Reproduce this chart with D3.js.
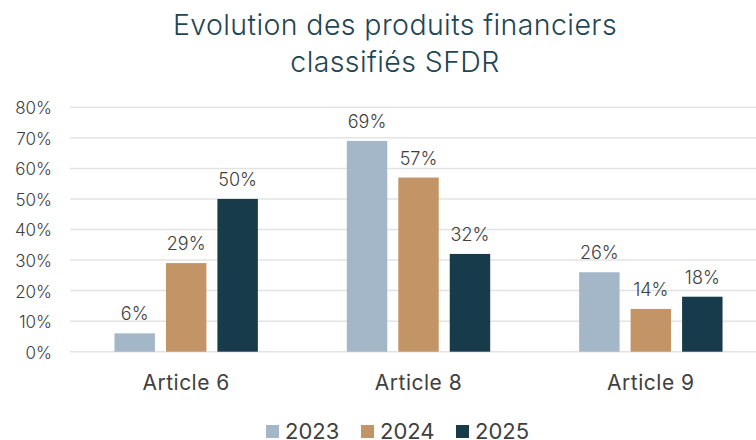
<!DOCTYPE html>
<html>
<head>
<meta charset="utf-8">
<script src="https://cdn.jsdelivr.net/npm/d3@7"></script>
<style>
  body { margin: 0; background: #fff; }
  svg { display: block; }
</style>
</head>
<body>
<div id="chart"></div>
<script>
// data
const categories = ["Article 6", "Article 8", "Article 9"];
const years = ["2023", "2024", "2025"];
const values2023 = [6, 69, 26];
const values2024 = [29, 57, 14];
const values2025 = [50, 32, 18];
const yTicks = [0, 10, 20, 30, 40, 50, 60, 70, 80];
const colors = ["#a3b7c8", "#c29466", "#173b4a"];

const series = [values2023, values2024, values2025];

const width = 756, height = 440;
const font = "Inter, 'Open Sans', sans-serif";

const svg = d3.select("#chart").append("svg")
    .attr("width", width)
    .attr("height", height)
    .attr("font-family", font);

// title
svg.append("text")
    .attr("text-anchor", "middle")
    .attr("fill", "#1f4654")
    .attr("font-size", 28.5)
    .attr("font-weight", 300)
    .attr("letter-spacing", 0.4)
    .selectAll("tspan")
    .data(["Evolution des produits financiers", "classifiés SFDR"])
    .join("tspan")
      .attr("x", 395)
      .attr("y", (d, i) => 35 + i * 37)
      .text(d => d);

const x0 = d3.scaleBand()
    .domain(categories)
    .range([70, 767])
    .paddingInner(0)
    .paddingOuter(0);

const x1 = d3.scaleBand()
    .domain(years)
    .range([0, 143.4])
    .paddingInner(0.214)
    .paddingOuter(0);

const y = d3.scaleLinear()
    .domain([0, 80])
    .range([351.7, 107.3]);

// gridlines
svg.append("g")
  .selectAll("line")
  .data(yTicks)
  .join("line")
    .attr("x1", 70)
    .attr("x2", width)
    .attr("y1", d => y(d))
    .attr("y2", d => y(d))
    .attr("stroke", "#e3e3e3")
    .attr("stroke-width", 1.5);

// y axis labels
const yAxis = svg.append("g")
    .attr("transform", "translate(52,1)")
    .call(d3.axisLeft(y).tickValues(yTicks).tickSize(0).tickPadding(0).tickFormat(d => d + "%"));
yAxis.select(".domain").remove();
yAxis.selectAll("text")
    .attr("font-family", font)
    .attr("font-size", 17)
    .attr("font-weight", 300)
    .attr("fill", "#404040");

// bars
const group = svg.append("g")
  .selectAll("g")
  .data(categories)
  .join("g")
    .attr("transform", d => `translate(${x0(d) + (x0.bandwidth() - x1.range()[1]) / 2},0)`);

const cells = group.selectAll("g")
  .data((d, i) => years.map((yr, j) => ({ year: yr, value: series[j][i] })))
  .join("g");

cells.append("rect")
    .attr("x", d => x1(d.year))
    .attr("width", x1.bandwidth())
    .attr("y", d => y(d.value))
    .attr("height", d => y(0) - y(d.value))
    .attr("fill", (d, j) => colors[j]);

cells.append("text")
    .attr("x", d => x1(d.year) + x1.bandwidth() / 2)
    .attr("y", d => y(d.value) - 13)
    .attr("text-anchor", "middle")
    .attr("font-size", 18)
    .attr("font-weight", 300)
    .attr("fill", "#404040")
    .text(d => d.value + "%");

// category axis
const xAxis = svg.append("g")
    .attr("transform", "translate(0,390)")
    .call(d3.axisBottom(x0).tickSize(0).tickPadding(0));
xAxis.select(".domain").remove();
xAxis.selectAll("text")
    .attr("font-family", font)
    .attr("font-size", 21)
    .attr("letter-spacing", 0.5)
    .attr("fill", "#404040")
    .attr("dy", 0);

// legend
const legend = svg.append("g")
  .selectAll("g")
  .data(years)
  .join("g")
    .attr("transform", (d, i) => `translate(${266 + i * 95},0)`);

legend.append("rect")
    .attr("y", 425)
    .attr("width", 13)
    .attr("height", 13)
    .attr("fill", (d, i) => colors[i]);

legend.append("text")
    .attr("x", 19)
    .attr("y", 439)
    .attr("font-size", 22)
    .attr("fill", "#404040")
    .text(d => d);
</script>
</body>
</html>
